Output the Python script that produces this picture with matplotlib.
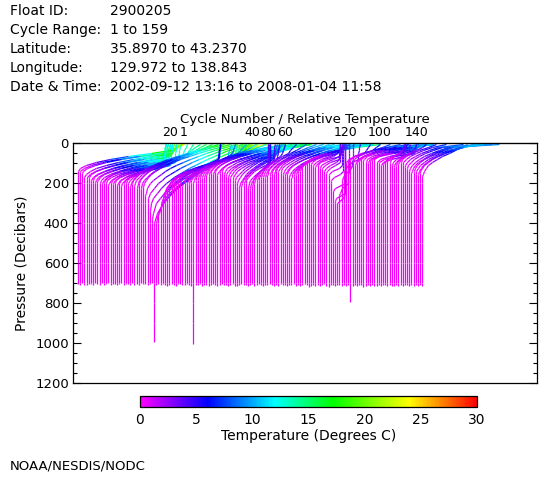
import numpy as np
import matplotlib
matplotlib.use("Agg")
import matplotlib.pyplot as plt
from matplotlib.collections import LineCollection
from matplotlib.colors import LinearSegmentedColormap, Normalize
from matplotlib.colorbar import ColorbarBase

# ---------------- data ----------------
cycles = list(range(1, 160))

# surface temperature (deg C)
sst = [25, 24, 23.5, 23, 22, 21, 20, 19, 18, 17,
       16, 15, 14.5, 14, 13.5, 13, 12.5, 12, 12, 12,
       12, 12.5, 13, 14, 15, 16, 17, 18, 19, 20,
       21, 22, 23, 24, 25, 27, 26, 25, 23, 21,
       20, 19, 18, 17, 16, 15, 14, 13, 12, 11,
       8, 7.5, 7, 6.5, 6, 9, 11, 13, 15, 19.4,
       19, 20, 21, 22, 23, 22, 22, 21, 20, 19,
       17, 15, 13, 11, 10, 9, 8, 6, 5.5, 4.5,
       4, 3.8, 4.5, 5, 6, 8, 10, 12, 13, 14,
       15, 16, 17, 18, 19, 20, 21, 21, 20.5, 21.5,
       19, 18, 17, 16, 14, 12, 10, 9, 8, 7,
       6, 5, 4.5, 4, 3.5, 3.5, 3.2, 3.2, 2.7, 2.2,
       2.5, 3, 4, 6, 8, 10, 12, 14, 16, 18,
       19, 18, 17, 16, 15, 14, 12, 11, 10, 8.5,
       6, 5, 4.4, 3.8, 3.5, 4, 5, 7, 9, 11,
       15, 20, 25, 22, 19, 17, 15, 13, 11]

# temperature at the base of the upper (mixed) layer (deg C)
t_ml = [21, 21, 20.5, 20, 19.5, 19, 18.5, 18, 17, 16,
        15.5, 14.5, 14, 13.5, 13, 12.5, 12, 11.5, 11.5, 11.5,
        11.5, 12, 12, 12.5, 13, 13, 13.5, 14, 14, 15,
        16, 17, 18, 19, 20, 21, 21, 21, 20, 19,
        18.5, 17.5, 17, 16, 15, 14, 13, 12, 11, 10,
        7.5, 7, 6.5, 6, 5.5, 8, 9, 10, 11, 12,
        12, 13, 14, 15, 16, 16, 15, 15, 14, 13,
        12, 11, 10, 9, 8.5, 8, 7, 5.8, 5.3, 4.4,
        4, 3.7, 4.2, 4.5, 5, 6, 7, 8, 9, 10,
        10, 11, 11, 12, 12, 13, 13, 14, 13, 13,
        12, 11, 10, 9, 8, 7, 6.5, 6, 5.5, 5,
        5.5, 4.8, 4.3, 3.8, 3.4, 3.4, 3.1, 3.1, 2.6, 2.15,
        2.4, 2.8, 3.5, 4.5, 5.5, 6.5, 7, 8, 9, 10,
        11, 10, 10, 9, 9, 8.5, 8, 8, 8, 8,
        4.7, 4.2, 3.7, 3.2, 3.2, 3.6, 4.2, 5, 6, 7,
        8, 9, 10, 10, 9.5, 9, 8.5, 8, 7.5]

# depth of the upper-layer base (dbar)
p_ml = [40, 45, 45, 50, 55, 60, 65, 70, 75, 80,
        85, 90, 95, 100, 100, 105, 110, 110, 115, 110,
        110, 100, 90, 75, 60, 50, 45, 40, 35, 30,
        30, 30, 30, 30, 30, 30, 35, 40, 45, 50,
        55, 60, 60, 65, 70, 70, 75, 75, 80, 80,
        80, 85, 90, 85, 80, 60, 50, 40, 35, 30,
        25, 25, 20, 20, 20, 20, 25, 25, 30, 30,
        40, 45, 50, 55, 60, 70, 80, 100, 110, 110,
        105, 100, 90, 80, 60, 50, 40, 35, 30, 30,
        25, 25, 20, 20, 20, 20, 20, 20, 20, 25,
        25, 25, 30, 30, 35, 40, 45, 50, 55, 60,
        65, 70, 80, 90, 100, 120, 150, 200, 250, 270,
        200, 120, 80, 50, 40, 30, 25, 20, 20, 15,
        15, 20, 20, 25, 30, 35, 40, 45, 50, 55,
        50, 50, 45, 40, 60, 50, 40, 30, 25, 20,
        20, 15, 15, 15, 20, 25, 30, 35, 40]

# depth where the profile leaves the cold deep water (dbar)
p_knee = [140, 145, 150, 170, 180, 175, 190, 185, 195, 190,
          200, 205, 195, 200, 210, 200, 205, 195, 210, 200,
          215, 205, 200, 210, 220, 205, 215, 225, 210, 230,
          220, 260, 300, 340, 380, 420, 400, 360, 320, 280,
          250, 230, 215, 205, 200, 210, 195, 205, 215, 200,
          210, 205, 195, 200, 190, 185, 180, 175, 170, 160,
          165, 150, 155, 145, 160, 150, 140, 155, 165, 170,
          175, 185, 200, 215, 230, 220, 210, 200, 225, 235,
          215, 205, 195, 190, 180, 170, 175, 160, 165, 150,
          155, 140, 145, 150, 160, 165, 155, 170, 175, 165,
          160, 150, 140, 120, 110, 100, 95, 105, 115, 120,
          110, 125, 130, 140, 150, 160, 190, 240, 290, 300,
          260, 200, 150, 100, 90, 85, 95, 110, 100, 90,
          80, 85, 95, 100, 90, 85, 80, 95, 100, 110,
          105, 95, 90, 100, 110, 120, 115, 105, 100, 110,
          120, 130, 140, 150, 145, 155, 160, 150, 165]

# deepest pressure of each profile (dbar)
p_bottom = [705, 710, 700, 708, 712, 703, 706, 710, 700, 705,
            708, 702, 710, 706, 700, 712, 705, 703, 709, 707,
            700, 711, 706, 704, 710, 702, 708, 705, 712, 700,
            707, 703, 710, 706, 701, 995, 709, 704, 711, 706,
            712, 715, 708, 705, 710, 714, 706, 703, 709, 712,
            707, 711, 715, 1005, 708, 712, 706, 716, 710, 708,
            713, 709, 705, 711, 716, 708, 704, 712, 709, 714,
            710, 706, 713, 717, 709, 705, 712, 708, 715, 711,
            706, 713, 709, 704, 711, 716, 708, 712, 705, 710,
            714, 709, 713, 706, 711, 708, 715, 710, 712, 707,
            713, 709, 716, 711, 706, 712, 718, 714, 709, 713,
            710, 716, 712, 707, 714, 719, 711, 708, 715, 712,
            709, 714, 711, 716, 710, 795, 713, 708, 715, 711,
            712, 718, 714, 709, 716, 711, 713, 717, 710, 714,
            711, 708, 715, 712, 717, 713, 709, 714, 711, 716,
            712, 710, 715, 709, 713, 711, 716, 712, 714]

t_deep = 0.35
levels = [4, 20, 35, 50, 65, 80, 95, 110, 125, 140, 155, 170, 185, 200,
          225, 250, 275, 300, 350, 400, 450, 500, 550, 600, 650, 700,
          750, 800, 850, 900, 950]
label_cycles = [1, 20, 40, 60, 80, 100, 120, 140]

header_keys = ["Float ID:", "Cycle Range:", "Latitude:", "Longitude:", "Date & Time:"]
header_vals = ["2900205", "1 to 159", "35.8970 to 43.2370", "129.972 to 138.843",
               "2002-09-12 13:16 to 2008-01-04 11:58"]

# ---------------- helpers ----------------
def temperature(i, p):
    pk, pm = p_knee[i], p_ml[i]
    if p >= pk:
        return t_deep
    if p >= pm:
        s = (pk - p) / (pk - pm)
        return t_deep + (t_ml[i] - t_deep) * s ** 2
    return sst[i] + (t_ml[i] - sst[i]) * p / pm

colors_rgb = [(0.0, (1, 0, 1)), (6 / 30, (0, 0, 1)), (12 / 30, (0, 1, 1)),
              (17.2 / 30, (0, 1, 0)), (24 / 30, (1, 1, 0)), (27 / 30, (1, 0.5, 0)),
              (1.0, (1, 0, 0))]
cmap = LinearSegmentedColormap.from_list("idl_rainbow", colors_rgb)
norm = Normalize(0, 30)
T_SCALE = 2.0  # relative-temperature units per deg C

segs, cols = [], []
top_x = {}
for i, c in enumerate(cycles):
    ps = [p for p in levels if p < p_knee[i] or (p < p_bottom[i] - 5 and p % 100 == 0)]
    ps = sorted(set(ps + [p_knee[i], p_bottom[i]]))
    ts = [temperature(i, p) for p in ps]
    xs = [c + T_SCALE * t for t in ts]
    top_x[c] = xs[0]
    for k in range(len(ps) - 1):
        segs.append([(xs[k], ps[k]), (xs[k + 1], ps[k + 1])])
        cols.append(cmap(norm(ts[k + 1])))

# ---------------- figure ----------------
plt.rcParams['font.family'] = ['DejaVu Sans']
fig = plt.figure(figsize=(5.6, 4.8), dpi=100)
W, H = 560, 480

for k, (key, val) in enumerate(zip(header_keys, header_vals)):
    y = 1 - (11 + 19 * k) / H
    fig.text(10 / W, y, key, fontsize=10, va='center', ha='left')
    fig.text(110 / W, y, val, fontsize=10, va='center', ha='left')

ax = fig.add_axes([73 / W, 1 - 383 / H, 464 / W, 240 / H])
lc = LineCollection(segs, colors=cols, linewidths=0.9, antialiaseds=True)
lc.set_snap(True)
ax.add_collection(lc)
ax.set_xlim(-0.5, 212.3)
ax.set_ylim(1200, 0)
ax.set_yticks(np.arange(0, 1201, 200))
ax.set_yticks(np.arange(0, 1201, 50), minor=True)
ax.tick_params(axis='y', which='major', direction='in', length=5.5, width=0.8,
               right=True, labelsize=9.5, pad=3)
ax.tick_params(axis='y', which='minor', direction='in', length=3, width=0.8, right=True)
ax.tick_params(axis='x', which='both', bottom=False, labelbottom=False)
ax.set_ylabel("Pressure (Decibars)", fontsize=10, labelpad=5)
for sp in ax.spines.values():
    sp.set_linewidth(0.9)

sec = ax.secondary_xaxis('top')
sec.set_xticks([top_x[c] for c in label_cycles], [str(c) for c in label_cycles])
sec.tick_params(length=0, pad=3, labelsize=9)
sec.set_xlabel("Cycle Number / Relative Temperature", fontsize=9.5, labelpad=2)

cax = fig.add_axes([140 / W, 1 - 407 / H, 337 / W, 11 / H])
cb = ColorbarBase(cax, cmap=cmap, norm=norm, orientation='horizontal',
                  ticks=np.arange(0, 31, 5))
cb.outline.set_linewidth(0.9)
cax.tick_params(length=0, pad=4, labelsize=10)
cb.set_label("Temperature (Degrees C)", fontsize=10, labelpad=2)

fig.text(10 / W, 1 - 466 / H, "NOAA/NESDIS/NODC", fontsize=9.5, va='center', ha='left')

fig.savefig("out.png", dpi=100)
